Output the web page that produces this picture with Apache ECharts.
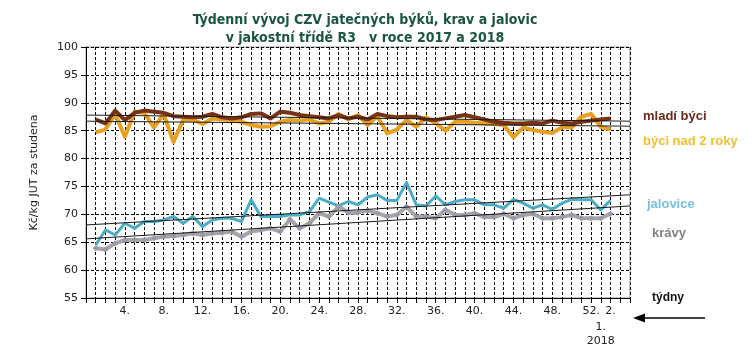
<!DOCTYPE html>
<html>
<head>
<meta charset="utf-8">
<script src="https://cdn.jsdelivr.net/npm/echarts@6/dist/echarts.min.js"></script>
<style>html,body{margin:0;padding:0;background:#fff;}#c{width:755px;height:348px;}</style>
</head>
<body>
<div id="c"></div>
<script>
// categories: index 0 empty, weeks 1..52 of 2017, weeks 1..2 of 2018, two empty slots
var categories = ['', '1.','2.','3.','4.','5.','6.','7.','8.','9.','10.','11.','12.','13.','14.','15.','16.','17.','18.','19.','20.',
  '21.','22.','23.','24.','25.','26.','27.','28.','29.','30.','31.','32.','33.','34.','35.','36.','37.','38.','39.','40.',
  '41.','42.','43.','44.','45.','46.','47.','48.','49.','50.','51.','52.','1.','2.','',''];
var shownTickLabels = ['4.','8.','12.','16.','20.','24.','28.','32.','36.','40.','44.','48.','52.'];
var yearLabel = '2018';

var mladiByci = [87.0,86.3,88.6,86.9,88.2,88.6,88.4,88.2,87.6,87.5,87.4,87.5,88.0,87.4,87.2,87.4,88.0,88.1,87.2,88.4,
  88.2,87.8,87.6,87.4,87.2,87.8,87.2,87.5,87.0,88.0,87.6,87.4,87.5,87.5,87.0,86.9,87.2,87.5,87.8,87.4,
  87.0,86.6,86.4,86.3,86.3,86.4,86.3,86.8,86.4,86.3,86.6,86.8,87.0,87.2];
var byciNad2 = [84.7,85.2,88.0,83.9,88.4,88.2,85.6,88.0,83.0,86.9,87.0,86.2,87.2,87.0,86.9,86.6,86.0,85.7,85.8,86.6,
  86.9,86.8,87.0,86.3,86.6,88.0,87.0,87.8,86.0,87.6,84.5,85.2,86.9,85.7,87.4,86.3,85.0,86.6,86.6,86.4,
  86.3,86.2,86.0,83.8,85.6,85.1,84.8,84.6,85.6,85.6,87.5,88.0,85.7,85.2];
var jalovice = [64.5,67.2,66.3,68.4,67.5,68.7,68.7,69.0,69.6,68.4,69.6,67.8,69.0,69.3,69.3,68.7,72.6,69.6,69.6,69.6,
  69.9,69.9,70.5,72.9,72.2,71.5,72.3,71.7,73.1,73.5,72.5,72.5,75.7,71.7,71.5,73.3,71.7,72.3,72.6,72.6,
  71.7,71.7,71.1,72.7,72.0,71.1,71.7,70.9,72.0,72.7,72.6,72.6,70.8,72.5];
var kravy = [63.9,63.7,64.8,65.4,65.4,65.4,65.7,66.0,66.1,66.3,66.6,66.3,66.6,66.7,66.9,66.0,66.9,67.2,67.5,66.9,
  69.1,67.5,68.4,70.2,69.6,71.4,70.3,70.3,70.7,70.2,69.6,69.9,71.4,69.6,69.6,69.3,70.8,69.9,69.9,70.2,
  69.5,69.5,70.1,69.3,69.9,70.1,69.3,69.3,69.5,69.9,69.3,69.3,69.3,70.1];
// linear trend lines: value at first and last category slot
var trendMladi = [87.8, 86.7];
var trendNad2 = [86.7, 85.8];
var trendJalovice = [68.1, 73.5];
var trendKravy = [65.6, 71.5];

function toPairs(arr){ return arr.map(function(v,i){ return [i+1, v]; }); }
function trend(ends){ return [[0, ends[0]], [categories.length-1, ends[1]]]; }

var font = 'DejaVu Sans';
var chart = echarts.init(document.getElementById('c'));
var dash = [3, 2];
function trendSeries(ends){
  return {type:'line', data: trend(ends), symbol:'none', silent:true, z:10,
    lineStyle:{color:'#1a1a1a', width:1}};
}
chart.setOption({
  animation:false,
  title:{
    text:'Týdenní vývoj CZV jatečných býků, krav a jalovic\nv jakostní třídě R3   v roce 2017 a 2018',
    left: 360, top: 6, textAlign:'center',
    textStyle:{fontFamily:'DejaVu Sans Condensed, Liberation Sans', fontWeight:'bold', fontSize:14, color:'#1b5443', lineHeight:18}
  },
  grid:{left:86, right:125, top:47, bottom:50, show:true, borderColor:'#999', borderWidth:1},
  xAxis:[{
    type:'category', data:categories, boundaryGap:false,
    axisLine:{lineStyle:{color:'#000', width:1}},
    axisTick:{show:true, interval:0, length:5, lineStyle:{color:'#000'}},
    axisLabel:{
      interval:function(i){ return (shownTickLabels.indexOf(categories[i]) >= 0 && i <= 52) || i === 54; },
      hideOverlap:false,
      fontFamily:font, fontSize:11, color:'#222', margin:8
    },
    splitLine:{show:true, interval:0, lineStyle:{color:'#000', type:dash, width:1}}
  },{
    type:'category', data:categories, boundaryGap:false, position:'bottom',
    axisLine:{show:false}, axisTick:{show:false}, splitLine:{show:false},
    axisLabel:{
      interval:function(i){ return i === 53; },
      formatter:function(v){ return v + '\n' + yearLabel; },
      fontFamily:font, fontSize:11, color:'#222', margin:22, lineHeight:14
    }
  }],
  yAxis:{
    type:'value', min:55, max:100, interval:5,
    name:'Kč/kg JUT za studena', nameLocation:'middle', nameGap:46,
    nameTextStyle:{fontFamily:font, fontSize:11, color:'#222'},
    axisLine:{show:true, lineStyle:{color:'#000', width:1}},
    axisTick:{show:true, length:5, lineStyle:{color:'#000'}},
    axisLabel:{fontFamily:font, fontSize:11, color:'#222', margin:8},
    splitLine:{show:true, lineStyle:{color:'#000', type:dash, width:1}}
  },
  series:[
    {name:'býci nad 2 roky', type:'line', data:toPairs(byciNad2), symbol:'none', z:3,
      lineStyle:{color:'#e8a020', width:4, join:'round'}},
    {name:'mladí býci', type:'line', data:toPairs(mladiByci), symbol:'none', z:4,
      lineStyle:{color:'#7a3214', width:4, join:'round'}},
    {name:'jalovice', type:'line', data:toPairs(jalovice), symbol:'none', z:5,
      lineStyle:{color:'#4bacc6', width:3, join:'round'}},
    {name:'krávy', type:'line', data:toPairs(kravy), symbol:'diamond', symbolSize:6, z:6,
      itemStyle:{color:'#9c98ac'}, lineStyle:{color:'#a6a6a6', width:4, join:'round'}},
    trendSeries(trendMladi), trendSeries(trendNad2), trendSeries(trendJalovice), trendSeries(trendKravy)
  ],
  graphic:[
    {type:'text', left:643, top:110, style:{text:'mladí býci', font:'bold 13px Liberation Sans', fill:'#6b2a1b'}},
    {type:'text', left:643, top:135, style:{text:'býci nad 2 roky', font:'bold 13px Liberation Sans', fill:'#f0c030'}},
    {type:'text', left:647, top:198, style:{text:'jalovice', font:'bold 13px Liberation Sans', fill:'#74c2dc'}},
    {type:'text', left:652, top:227, style:{text:'krávy', font:'bold 13px Liberation Sans', fill:'#808080'}},
    {type:'text', left:652, top:292, style:{text:'týdny', font:'bold 12px Liberation Sans', fill:'#111'}},
    {type:'line', shape:{x1:643, y1:318, x2:705, y2:318}, style:{stroke:'#000', lineWidth:1.5}},
    {type:'polygon', shape:{points:[[633,318],[645,313.5],[645,322.5]]}, style:{fill:'#000'}}
  ]
});
</script>
</body>
</html>
